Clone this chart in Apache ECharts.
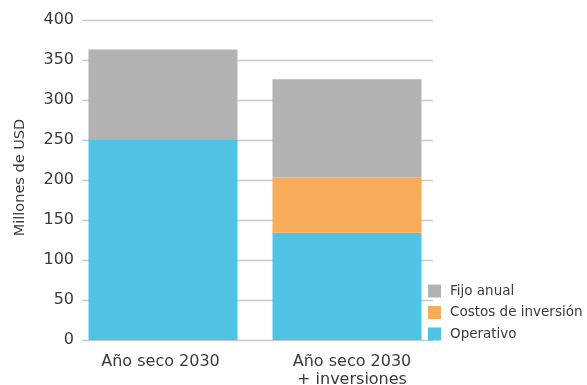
<!DOCTYPE html>
<html>
<head>
<meta charset="utf-8">
<script src="https://cdn.jsdelivr.net/npm/echarts@6/dist/echarts.min.js"></script>
<style>
  html, body { margin: 0; padding: 0; background: #fff; }
  #chart { width: 587px; height: 385px; }
</style>
</head>
<body>
<div id="chart"></div>
<script>
// Costos anuales por escenario (millones de USD)
const categories = ['Año seco 2030', 'Año seco 2030\n+ inversiones'];
const operativo = [250, 134];
const costosInversion = [0, 69];
const fijoAnual = [113, 123];
const yTicks = { min: 0, max: 400, interval: 50 };

const FONT = '"DejaVu Sans", sans-serif';
const TEXT = '#3a3a3a';
const colors = { fijo: '#b1b2b4', inversion: '#f8ac59', operativo: '#4ec3e3' };

const chart = echarts.init(document.getElementById('chart'), null, { renderer: 'canvas' });

// category label with a small horizontal nudge per column
function catLabel(value, idx) {
  return value.split('\n').map(line => `{c${idx}|${line}}`).join('\n');
}

chart.setOption({
  animation: false,
  textStyle: { fontFamily: FONT },
  grid: [
    // value scale with gridlines
    { left: 82, right: 154, top: 20, bottom: 45, outerBoundsMode: 'none', containLabel: false },
    // bars
    { left: 71, right: 148, top: 20, bottom: 45, outerBoundsMode: 'none', containLabel: false }
  ],
  legend: {
    orient: 'vertical',
    left: 428,
    top: 284,
    padding: 0,
    itemWidth: 13,
    itemHeight: 13,
    itemGap: 7.5,
    icon: 'rect',
    data: ['Fijo anual', 'Costos de inversión', 'Operativo'],
    textStyle: { fontFamily: FONT, fontSize: 13.5, lineHeight: 13, color: TEXT, padding: [0, 0, 0, 4] }
  },
  xAxis: [
    { type: 'category', gridIndex: 0, data: categories, show: false },
    {
      type: 'category', gridIndex: 1, data: categories,
      axisLine: { show: false }, axisTick: { show: false },
      axisLabel: {
        interval: 0, hideOverlap: false,
        color: TEXT, fontSize: 16, fontFamily: FONT, margin: 13, lineHeight: 18,
        formatter: catLabel,
        rich: {
          c0: { color: TEXT, fontSize: 16, fontFamily: FONT, lineHeight: 18, padding: [0, 5, 0, 0] },
          c1: { color: TEXT, fontSize: 16, fontFamily: FONT, lineHeight: 18, padding: [0, 0, 0, 10] }
        }
      }
    }
  ],
  yAxis: [
    {
      type: 'value', gridIndex: 0,
      min: yTicks.min, max: yTicks.max, interval: yTicks.interval,
      name: 'Millones de USD', nameLocation: 'middle', nameGap: 54,
      nameTextStyle: { color: TEXT, fontSize: 14.5, fontFamily: FONT, padding: [0, 0, 0, 5] },
      axisLine: { show: false }, axisTick: { show: false },
      axisLabel: { color: TEXT, fontSize: 16, fontFamily: FONT, margin: 8 },
      splitLine: { show: true, lineStyle: { color: '#c9c9c9', width: 1.3 } }
    },
    {
      type: 'value', gridIndex: 1,
      min: yTicks.min, max: yTicks.max, interval: yTicks.interval,
      show: false, splitLine: { show: false }
    }
  ],
  series: [
    {
      name: 'Operativo', type: 'bar', stack: 'total', xAxisIndex: 1, yAxisIndex: 1,
      barWidth: 149, itemStyle: { color: colors.operativo }, data: operativo
    },
    {
      name: 'Costos de inversión', type: 'bar', stack: 'total', xAxisIndex: 1, yAxisIndex: 1,
      barWidth: 149, itemStyle: { color: colors.inversion }, data: costosInversion
    },
    {
      name: 'Fijo anual', type: 'bar', stack: 'total', xAxisIndex: 1, yAxisIndex: 1,
      barWidth: 149, itemStyle: { color: colors.fijo }, data: fijoAnual
    }
  ]
});
</script>
</body>
</html>
